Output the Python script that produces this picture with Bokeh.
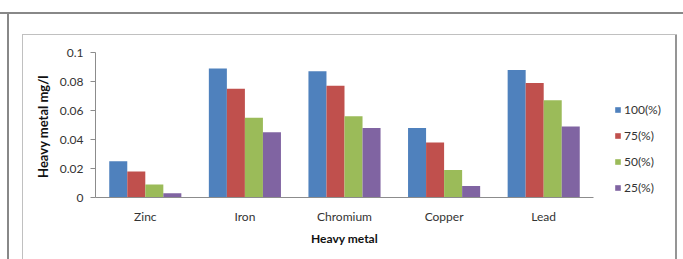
from bokeh.plotting import figure
from bokeh.layouts import row
from bokeh.models import (ColumnDataSource, Legend, LegendItem,
                          FixedTicker, PrintfTickFormatter, Range1d)
from bokeh.transform import dodge
from bokeh.embed import file_html
from bokeh.resources import INLINE

# ---- data ----
metals = ["Zinc", "Iron", "Chromium", "Copper", "Lead"]
p100 = [0.025, 0.089, 0.087, 0.048, 0.088]
p75 = [0.018, 0.075, 0.077, 0.038, 0.079]
p50 = [0.009, 0.055, 0.056, 0.019, 0.067]
p25 = [0.003, 0.045, 0.048, 0.008, 0.049]
series_names = ["100(%)", "75(%)", "50(%)", "25(%)"]
y_ticks = [0, 0.02, 0.04, 0.06, 0.08, 0.1]
x_title = "Heavy metal"
y_title = "Heavy metal  mg/l"

colors = ["#4F81BD", "#C0504D", "#9BBB59", "#8064A2"]
FONT = "Lato"
TXT = "#333333"
AX = "#8c8c8c"

src = ColumnDataSource(dict(metal=metals, s100=p100, s75=p75, s50=p50, s25=p25))

main_css = ", ".join([
    "linear-gradient(#888888,#888888) 0px 12px / 100% 2px no-repeat",
    "linear-gradient(#888888,#888888) 7px 12px / 2px 100% no-repeat",
    "linear-gradient(#c0c0c0,#c0c0c0) 22px 34px / 100% 1px no-repeat",
    "linear-gradient(#c0c0c0,#c0c0c0) 22px 34px / 1px 100% no-repeat",
    "#ffffff",
])
leg_css = ", ".join([
    "linear-gradient(#888888,#888888) 0px 12px / 100% 2px no-repeat",
    "linear-gradient(#c0c0c0,#c0c0c0) 0px 34px / 77px 1px no-repeat",
    "linear-gradient(#959595,#959595) 75px 34px / 2px 100% no-repeat",
    "#ffffff",
])

p = figure(width=600, height=259, x_range=metals, y_range=Range1d(0, 0.1),
           output_backend="svg", toolbar_location=None,
           min_border_left=95, min_border_right=7, min_border_top=52, min_border_bottom=62,
           styles={"background": main_css})
p.outline_line_color = None
p.xgrid.grid_line_color = None
p.ygrid.grid_line_color = None
p.background_fill_color = None
p.border_fill_color = None

bw = 0.181
offsets = [-1.5 * bw, -0.5 * bw, 0.5 * bw, 1.5 * bw]
cols = ["s100", "s75", "s50", "s25"]
for c, off, col in zip(cols, offsets, colors):
    p.vbar(x=dodge("metal", off, range=p.x_range), top=c, width=bw, bottom=0,
           source=src, fill_color=col, line_color=None)

# axes
p.yaxis.ticker = FixedTicker(ticks=y_ticks)
p.yaxis.formatter = PrintfTickFormatter(format="%g")
p.yaxis.minor_tick_line_color = None
p.yaxis.major_tick_out = 5
p.yaxis.major_tick_in = 0
p.yaxis.axis_line_color = AX
p.yaxis.major_tick_line_color = AX
p.yaxis.major_label_standoff = 7
p.yaxis.axis_label = y_title
p.yaxis.axis_label_standoff = 6

p.xaxis.major_tick_line_color = None
p.xaxis.minor_tick_line_color = None
p.xaxis.axis_line_color = AX
p.xaxis.major_label_standoff = 5
p.xaxis.axis_label = x_title
p.xaxis.axis_label_standoff = 4

for ax in (p.xaxis, p.yaxis):
    ax.major_label_text_font = FONT
    ax.major_label_text_font_size = "12px"
    ax.major_label_text_color = TXT
    ax.axis_label_text_font = FONT
    ax.axis_label_text_font_style = "bold"
    ax.axis_label_text_color = "#111111"
p.xaxis.axis_label_text_font_size = "12px"
p.yaxis.axis_label_text_font_size = "13px"

# legend panel: a companion figure (frame aligned with the main one);
# its series renderers are hidden and only feed the legend swatches
lg = figure(width=83, height=259, x_range=metals, y_range=Range1d(0, 0.1),
            output_backend="svg", toolbar_location=None,
            x_axis_type=None, y_axis_type=None, min_border=0,
            styles={"background": leg_css})
lg.outline_line_color = None
lg.xgrid.grid_line_color = None
lg.ygrid.grid_line_color = None
lg.background_fill_color = None
lg.border_fill_color = None
leg_renderers = []
for c, off, col in zip(cols, offsets, colors):
    r = lg.vbar(x=dodge("metal", off, range=lg.x_range), top=c, width=bw, bottom=0,
                source=src, fill_color=col, line_color=None, visible=False)
    leg_renderers.append(r)

legend = Legend(items=[LegendItem(label=n, renderers=[r]) for n, r in zip(series_names, leg_renderers)],
                location=(14, 2), orientation="vertical", click_policy="none",
                glyph_width=7, glyph_height=7, label_height=7, spacing=11,
                padding=0, margin=0, label_standoff=3,
                inactive_fill_alpha=0,
                border_line_color=None, background_fill_alpha=0,
                label_text_font=FONT, label_text_font_size="12px", label_text_color=TXT)
lg.add_layout(legend, "center")

layout = row(p, lg, spacing=0)
open("out.html", "w").write(file_html(layout, INLINE))
